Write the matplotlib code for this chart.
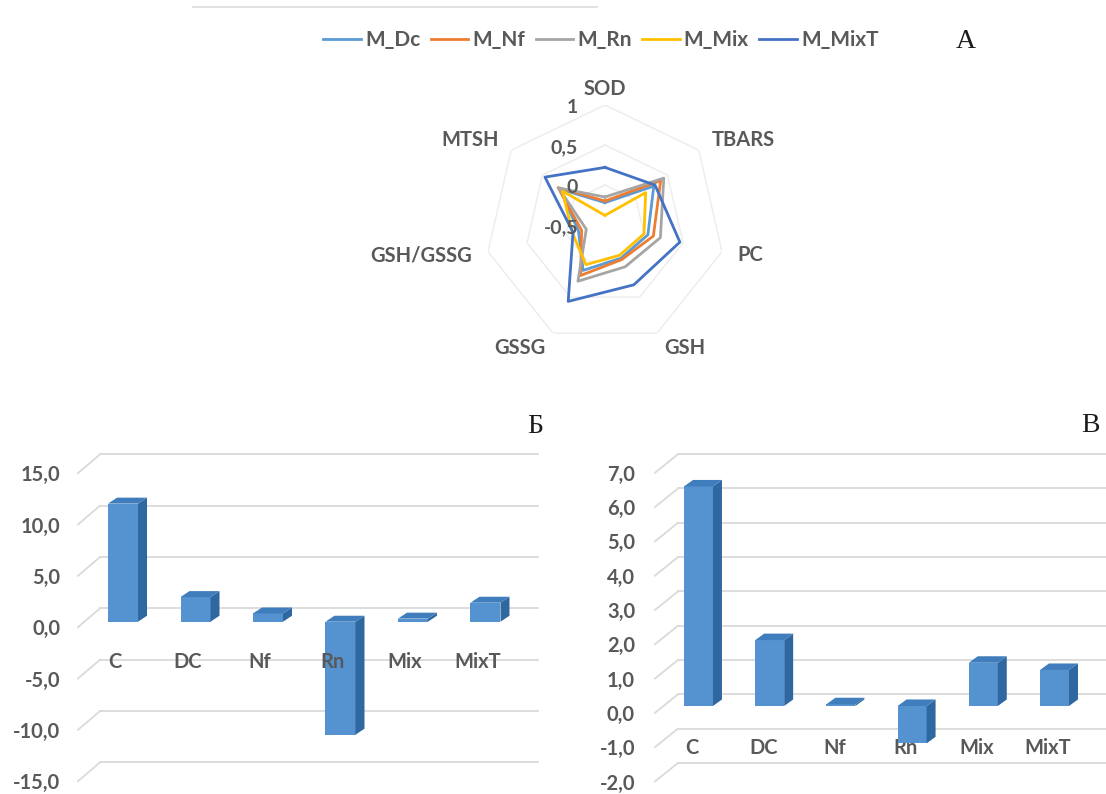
import matplotlib
matplotlib.use('Agg')
import matplotlib.pyplot as plt
import numpy as np
from matplotlib.patches import Polygon
from matplotlib.lines import Line2D
from matplotlib.transforms import offset_copy

# radar data (panel A)
axes_names = ['SOD', 'TBARS', 'PC', 'GSH', 'GSSG', 'GSH/GSSG', 'MTSH']
m_dc = [-0.22, 0.28, 0.05, -0.04, 0.13, -0.16, 0.22]
m_nf = [-0.20, 0.39, 0.12, -0.02, 0.20, -0.20, 0.25]
m_rn = [-0.15, 0.44, 0.21, 0.08, 0.28, -0.26, 0.24]
m_mix = [-0.38, 0.15, 0.00, -0.08, 0.05, -0.08, 0.18]
m_mixt = [0.22, 0.30, 0.46, 0.33, 0.56, -0.09, 0.46]
radar_ticks = [-0.5, 0, 0.5, 1]

# bar data (panels Б and В)
cats = ['C', 'DC', 'Nf', 'Rn', 'Mix', 'MixT']
vals_b = [11.5, 2.4, 0.8, -11.0, 0.3, 1.85]
ticks_b = [-15, -10, -5, 0, 5, 10, 15]
vals_v = [6.4, 1.92, 0.05, -1.09, 1.26, 1.05]
ticks_v = [-2, -1, 0, 1, 2, 3, 4, 5, 6, 7]

W, H = 1106, 794
TXT = '#595959'
FONT = ['Lato', 'DejaVu Sans']
plt.rcParams['font.family'] = FONT
plt.rcParams['font.weight'] = 'bold'

fig = plt.figure(figsize=(W / 100, H / 100), dpi=100)


def px_axes(x0, y0, x1, y1, **kw):
    return fig.add_axes([x0 / W, 1 - y1 / H, (x1 - x0) / W, (y1 - y0) / H], **kw)


# ---------- radar ----------
ax = px_axes(485, 105, 725, 345, projection='polar')
ax.set_theta_zero_location('N')
ax.set_theta_direction(-1)
ax.set_ylim(-0.5, 1)
ax.grid(False)
ax.spines['polar'].set_visible(False)
ax.set_xticks([])
ax.set_yticks([])
ax.patch.set_alpha(0)

theta = np.arange(len(axes_names)) * 2 * np.pi / len(axes_names)
tc = np.append(theta, theta[0])
for g in radar_ticks[1:]:
    ax.plot(tc, [g] * len(tc), color='#ececec', lw=1, zorder=1)

series = [('M_Dc', m_dc, '#5b9bd5'), ('M_Nf', m_nf, '#ed7d31'),
          ('M_Rn', m_rn, '#a5a5a5'), ('M_Mix', m_mix, '#ffc000'),
          ('M_MixT', m_mixt, '#4472c4')]
handles = []
for name, v, c in series:
    ln, = ax.plot(tc, np.append(v, v[0]), color=c, lw=2, label=name, zorder=3)
    handles.append(ln)

for t, name in zip(theta, axes_names):
    s = np.sin(t)
    ha = 'left' if s > 0.1 else ('right' if s < -0.1 else 'center')
    ax.text(t, 1.2, name, ha=ha, va='center', fontsize=14.5, color=TXT)

tr = offset_copy(ax.transData, fig=fig, x=-27, y=-3, units='dots')
for g in radar_ticks:
    ax.text(0, g, ('%g' % g).replace('.', ','), transform=tr, ha='right',
            va='center', fontsize=14, color=TXT, zorder=5)

fig.legend(handles=handles, ncol=5, loc='center', bbox_to_anchor=(601 / W, 1 - 40 / H),
           frameon=False, handlelength=1.8, columnspacing=0.5, handletextpad=0.2,
           labelcolor=TXT, prop={'size': 15, 'weight': 'bold', 'family': FONT})

fig.add_artist(Line2D([193 / W, 597 / W], [1 - 7 / H, 1 - 7 / H], color='#dcdcdc', lw=1.2))


# ---------- 3d-ish bars ----------
def bars3d(ax, vals, ticks, back_dy, gx0, gx1, sx0, s_dy, lab_x, lab_dy,
           w, dx, dy, cat_y, cat_dx, cat_z):
    for t in ticks:
        ax.plot([gx0, gx1], [t + back_dy] * 2, color='#dadada', lw=1.3, zorder=1)
        ax.plot([sx0, gx0], [t + s_dy, t + back_dy], color='#dadada', lw=1.3, zorder=1)
        ax.text(lab_x, t + lab_dy, ('%.1f' % t).replace('.', ','), ha='right',
                va='center', fontsize=14.5, color=TXT)
    x = np.arange(len(vals))
    ax.bar(x, vals, width=w, color='#5592d0', zorder=3)
    for xi, v in zip(x, vals):
        lo, hi = min(0, v), max(0, v)
        x0, x1 = xi - w / 2, xi + w / 2
        ax.add_patch(Polygon([(x1, lo), (x1 + dx, lo + dy), (x1 + dx, hi + dy), (x1, hi)],
                             closed=True, fc='#2f67a0', ec='none', zorder=3))
        ax.add_patch(Polygon([(x0, hi), (x0 + dx, hi + dy), (x1 + dx, hi + dy), (x1, hi)],
                             closed=True, fc='#3f7dbd', ec='none', zorder=3))
    for xi, c in zip(x, cats):
        ax.text(xi + cat_dx, cat_y, c, ha='center', va='center', fontsize=14.5,
                color=TXT, zorder=cat_z)


# panel Б
axb = px_axes(0, 400, 550, 794)
bars3d(axb, vals_b, ticks_b, back_dy=1.30, gx0=-0.317, gx1=5.724, sx0=-0.621,
       s_dy=-0.53, lab_x=-0.869, lab_dy=-0.75, w=0.414, dx=0.124, dy=0.58,
       cat_y=-3.9, cat_dx=-0.11, cat_z=4)
axb.set_xlim(-1.697, 5.890)
axb.set_ylim(-16.78, 21.59)
axb.axis('off')

# panel В
axv = px_axes(560, 400, 1106, 794)
bars3d(axv, vals_v, ticks_v, back_dy=0.341, gx0=-0.288, gx1=5.72, sx0=-0.611,
       s_dy=-0.2, lab_x=-0.892, lab_dy=-0.26, w=0.407, dx=0.126, dy=0.19,
       cat_y=-1.23, cat_dx=-0.09, cat_z=2)
axv.set_xlim(-1.945, 5.723)
axv.set_ylim(-2.566, 8.921)
axv.axis('off')

for lbl, px, py in [('А', 966, 42), ('Б', 535, 427), ('В', 1090, 425)]:
    fig.text(px / W, 1 - py / H, lbl, ha='center', va='center', fontsize=20,
             family='Liberation Serif', weight='normal', color='#1a1a1a')

fig.savefig('out.png', dpi=100)
